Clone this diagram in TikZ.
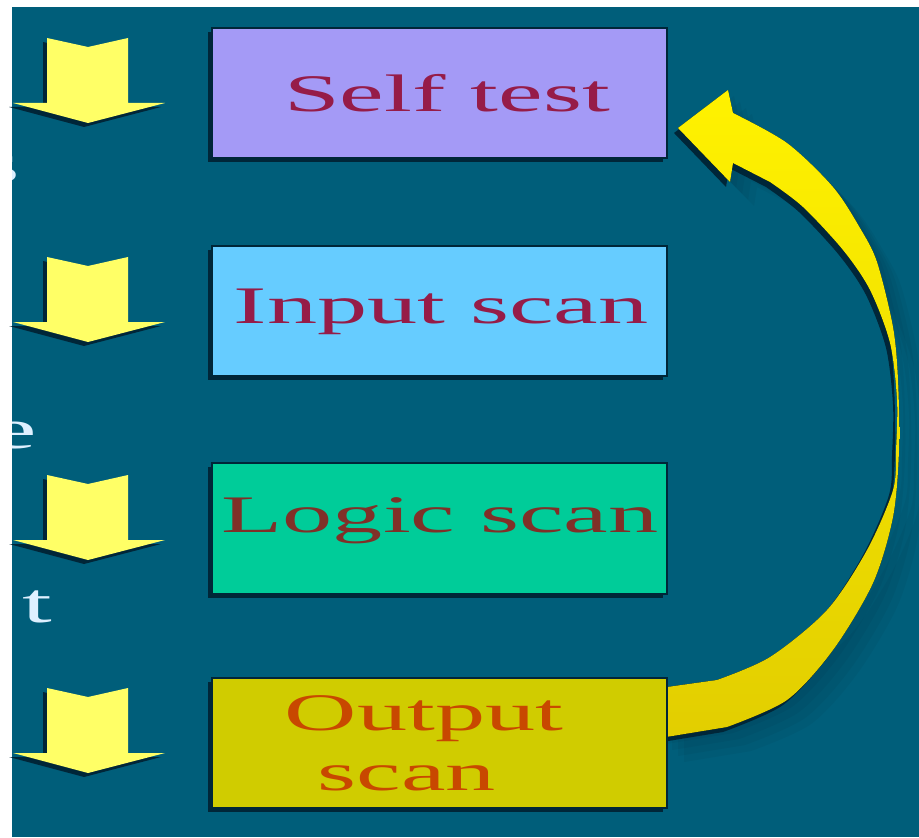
\documentclass[tikz,border=0pt]{standalone}
\usepackage{fontspec}
\setmainfont{Liberation Serif}
\usepackage{graphicx}
\usetikzlibrary{calc,shadows}

\definecolor{slidebg}{RGB}{0,94,122}
\definecolor{shadowc}{RGB}{0,38,56}
\definecolor{selfc}{RGB}{164,154,246}
\definecolor{inputc}{RGB}{102,204,255}
\definecolor{logicc}{RGB}{0,204,153}
\definecolor{outputc}{RGB}{208,204,0}
\definecolor{arrowyel}{RGB}{255,255,102}
\definecolor{loopyel}{RGB}{255,242,0}
\definecolor{loopyeldark}{RGB}{226,206,0}
\definecolor{maroontxt}{RGB}{150,28,72}
\definecolor{browntxt}{RGB}{128,48,40}
\definecolor{orangetxt}{RGB}{200,72,0}
\definecolor{sidetxt}{RGB}{222,240,255}

% text on the slide is stretched sideways
\newcommand{\wide}[1]{\scalebox{1.9}[1]{#1}}

% block arrow pointing down, top edge at #1
\newcommand{\dnarrow}[1]{(47,#1) -- (88,#1+9) -- (128,#1) -- (128,#1+65) -- (165,#1+65) -- (88,#1+85) -- (13,#1+65) -- (47,#1+65) -- cycle}

% curved arrow from output scan back up to self test
\newcommand{\looparrow}{(loopa) -- plot[smooth] coordinates {(727,727) (787,700) (833,650) (873,583) (893,517) (899,450) (898,380) (893,327) (877,262) (860,228) (833,187) (787,143) (733,113)}
    -- (728,90) -- (678,128) -- (730,182) -- (733,163)
    -- plot[smooth] coordinates {(770,182) (803,207) (843,250) (870,290) (890,343) (897,400) (896,450) (893,490) (867,550) (827,610) (770,657) (717,680)}
    -- (loopb) -- cycle}

\tikzset{
  stagebox/.style={minimum width=4.55cm, minimum height=1.3cm, inner sep=0pt,
    draw=shadowc, line width=0.6pt,
    drop shadow={shadow xshift=-0.04cm, shadow yshift=-0.04cm, fill=shadowc, opacity=1}},
  stagetext/.style={anchor=base, inner sep=0pt, font=\fontsize{15}{17.6}\selectfont},
  sidetext/.style={anchor=base east, inner sep=0pt, text=sidetxt, font=\fontsize{16}{18}\selectfont},
}

\begin{document}
\begin{tikzpicture}[x=0.01cm, y=-0.01cm]

    \useasboundingbox (0,0) rectangle (919,837);
    \fill[white] (0,0) rectangle (919,837);
    \fill[slidebg] (12,7) rectangle (919,837);

    % cut-off words on the left
    \node[sidetext] (sidea) at (21,183) {\wide{s}};
    \node[sidetext] (sideb) at (38,448) {\wide{e}};
    \node[sidetext] (sidec) at (53,622) {\wide{t}};
    \fill[white] (0,0) rectangle (12,837);

    % loop back, drawn under the stages
    \coordinate (loopa) at (660,738);
    \coordinate (loopb) at (660,688);
    \foreach \d in {6,12,18,24} {
        \fill[shadowc, opacity=0.07, transform canvas={shift={(\d,\d)}}] \looparrow;
    }
    \fill[shadowc, transform canvas={shift={(-4,5)}}] \looparrow;
    \fill[top color=loopyel, bottom color=loopyeldark] \looparrow;

    % stages
    \node[stagebox, fill=selfc] (self) at (439.5,93) {};
    \node[stagebox, fill=inputc] (input) at (439.5,311) {};
    \node[stagebox, fill=logicc, minimum height=1.31cm] (logic) at (439.5,528.5) {};
    \node[stagebox, fill=outputc] (outp) at (439.5,743) {};

    \node[stagetext, text=maroontxt] (selftxt) at (447,112) {\wide{Self test}};
    \node[stagetext, text=maroontxt] (inputtxt) at (441,323) {\wide{Input scan}};
    \node[stagetext, text=browntxt] (logictxt) at (440,532) {\wide{Logic scan}};
    \node[stagetext, text=orangetxt] (outptxta) at (424,730) {\wide{Output}};
    \node[stagetext, text=orangetxt] (outptxtb) at (407,790) {\wide{scan}};

    % down arrows
    \foreach \t in {38,257,475,688} {
        \fill[shadowc, shift={(-4,4)}] \dnarrow{\t};
        \fill[arrowyel] \dnarrow{\t};
    }

\end{tikzpicture}
\end{document}
